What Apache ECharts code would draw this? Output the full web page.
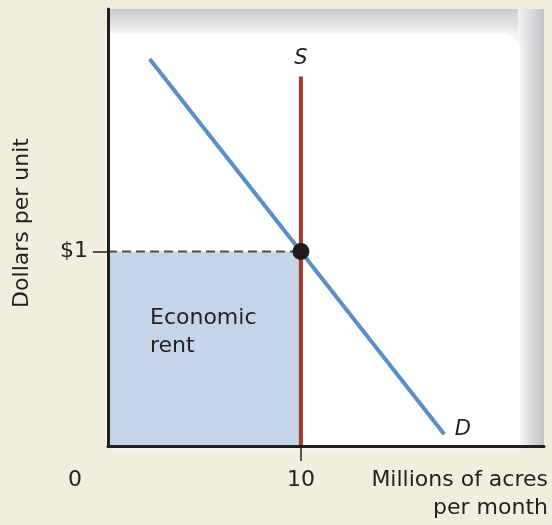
<!DOCTYPE html>
<html>
<head>
<meta charset="utf-8">
<script src="https://cdn.jsdelivr.net/npm/echarts@6/dist/echarts.min.js"></script>
<style>
html,body{margin:0;padding:0;background:#f1eedd;}
#c{width:552px;height:525px;}
</style>
</head>
<body>
<div id="c"></div>
<script>
// ---- data ----
const demandX = [2.16, 17.43];
const demandY = [1.99, 0.06];
const supplyX = [10, 10];
const supplyY = [0, 1.90];
const equilibrium = [10, 1];
const rentX = [0, 10];
const rentY = [1, 1];
const xTickValues = [0, 10];
const xTickLabels = ['0', '10'];
const yTickValues = [1];
const yTickLabels = ['$1'];
const xMax = 22.6;
const yMax = 2.247;

const FONT = 'DejaVu Sans';
const chart = echarts.init(document.getElementById('c'), null, {renderer: 'canvas'});

const G = {left: 108, top: 9, right: 8, bottom: 79};
const gw = 552 - G.left - G.right, gh = 525 - G.top - G.bottom;

const curveLabel = (txt, pos, extra) => Object.assign({
  show: true, position: pos, formatter: txt, opacity: 1,
  fontFamily: FONT, fontSize: 21, fontStyle: 'italic', color: '#231f20'
}, extra || {});

chart.setOption({
  backgroundColor: '#f1eedd',
  animation: false,
  grid: {left: G.left, top: G.top, right: G.right, bottom: G.bottom, containLabel: false},
  xAxis: {
    type: 'value', min: 0, max: xMax, z: 10,
    splitLine: {show: false},
    axisLine: {show: true, onZero: false, lineStyle: {color: '#231f20', width: 3}},
    axisTick: {show: true, customValues: [10], length: 15, inside: false, lineStyle: {color: '#231f20', width: 1.5}},
    axisLabel: {
      show: true, customValues: xTickValues, margin: 23,
      fontFamily: FONT, fontSize: 22, color: '#231f20',
      formatter: v => v === 0 ? '{z|' + xTickLabels[0] + '}' : xTickLabels[xTickValues.indexOf(v)],
      rich: {z: {fontFamily: FONT, fontSize: 22, color: '#231f20', padding: [0, 66, 0, 0]}}
    }
  },
  yAxis: {
    type: 'value', min: 0, max: yMax, z: 10,
    splitLine: {show: false},
    axisLine: {show: true, onZero: false, lineStyle: {color: '#231f20', width: 3}},
    axisTick: {show: true, customValues: yTickValues, length: 15, lineStyle: {color: '#231f20', width: 1.5}},
    axisLabel: {
      show: true, customValues: yTickValues, margin: 20,
      fontFamily: FONT, fontSize: 22, color: '#231f20',
      formatter: v => yTickLabels[yTickValues.indexOf(v)] || ''
    }
  },
  graphic: [
    {type: 'rect', z: -10, shape: {x: G.left, y: G.top, width: gw, height: 26},
     style: {fill: new echarts.graphic.LinearGradient(0, 0, 0, 1, [{offset: 0, color: '#c9cbce'}, {offset: 1, color: '#f2f2f2'}])}},
    {type: 'rect', z: -9, shape: {x: G.left + gw - 26, y: G.top, width: 26, height: gh},
     style: {fill: new echarts.graphic.LinearGradient(0, 0, 1, 0, [{offset: 0, color: '#f4f4f4'}, {offset: 1, color: '#c0c2c5'}])}},
    {type: 'rect', z: -8, shape: {x: G.left, y: G.top + 24, width: gw - 24, height: gh - 24, r: [0, 18, 0, 0]},
     style: {fill: '#ffffff', shadowBlur: 8, shadowColor: 'rgba(255,255,255,0.9)'}},
    {type: 'text', z: 20, x: 150, y: 304,
     style: {text: 'Economic\nrent', fontFamily: FONT, fontSize: 22, lineHeight: 28, fill: '#231f20', align: 'left', verticalAlign: 'top'}},
    {type: 'text', z: 20, x: 548, y: 466,
     style: {text: 'Millions of acres\nper month', fontFamily: FONT, fontSize: 22, lineHeight: 28, fill: '#231f20', align: 'right', verticalAlign: 'top'}},
    {type: 'text', z: 20, x: 22, y: 223, rotation: Math.PI / 2,
     style: {text: 'Dollars per unit', fontFamily: FONT, fontSize: 22, fill: '#231f20', align: 'center', verticalAlign: 'middle'}}
  ],
  series: [
    {
      type: 'line', z: 1, symbol: 'none', silent: true,
      data: rentX.map((x, i) => [x, rentY[i]]),
      lineStyle: {color: '#4d4d4f', width: 2, type: [9, 5]},
      areaStyle: {color: '#c5d5e8', opacity: 1}
    },
    {
      type: 'line', z: 3, symbol: 'none', silent: true,
      data: supplyX.map((x, i) => [x, supplyY[i]]),
      lineStyle: {color: '#a63a29', width: 4, cap: 'butt'}
    },
    {
      type: 'line', z: 4, symbol: 'none', silent: true,
      data: demandX.map((x, i) => [x, demandY[i]]),
      lineStyle: {color: '#5b8fc8', width: 4, cap: 'butt'}
    },
    {
      type: 'scatter', z: 5, silent: true,
      symbol: 'circle', symbolSize: 1,
      itemStyle: {color: 'rgba(0,0,0,0)', opacity: 1},
      data: [
        {value: [supplyX[1], supplyY[1]], label: curveLabel('S', 'top', {distance: 7})},
        {value: [demandX[1], demandY[1]], label: curveLabel('D', 'right', {distance: 10, offset: [0, -5]})}
      ]
    },
    {
      type: 'scatter', z: 6, silent: true,
      data: [equilibrium],
      symbol: 'circle', symbolSize: 17,
      itemStyle: {color: '#1f1c1d', opacity: 1}
    }
  ]
});
</script>
</body>
</html>
